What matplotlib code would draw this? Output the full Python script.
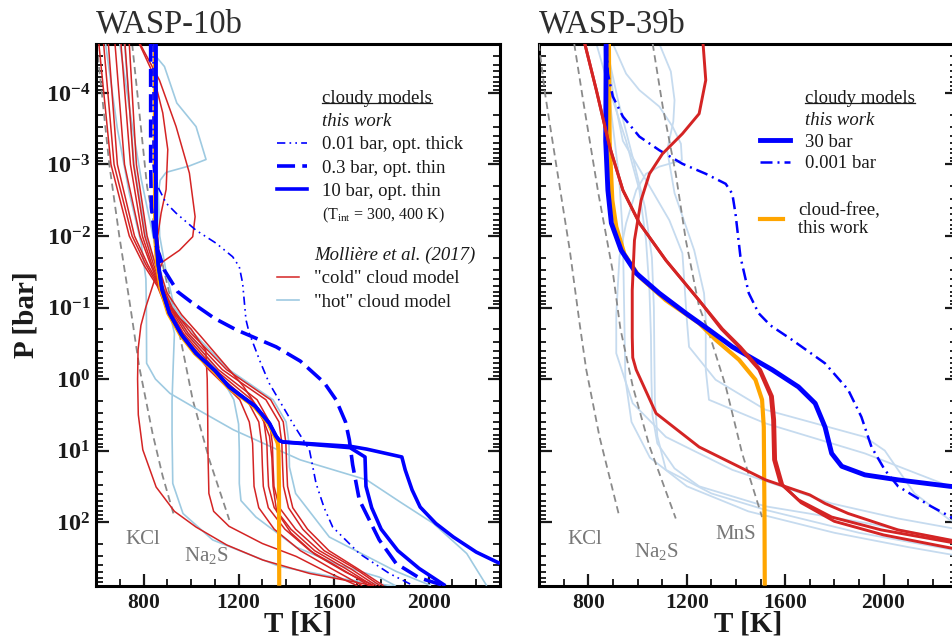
import numpy as np
import matplotlib
matplotlib.use('Agg')
import matplotlib.pyplot as plt
from matplotlib.lines import Line2D
from matplotlib.ticker import MultipleLocator, FixedLocator, FuncFormatter, NullFormatter

plt.rcParams['font.family'] = ['Liberation Serif', 'DejaVu Serif']
plt.rcParams['mathtext.fontset'] = 'custom'
plt.rcParams['mathtext.rm'] = 'Liberation Serif'
plt.rcParams['mathtext.it'] = 'Liberation Serif:italic'
plt.rcParams['mathtext.bf'] = 'Liberation Serif:bold'

# ---------------- WASP-10b (T in K, log10 P in bar) ----------------
w10_kcl_T = [602, 615, 656, 698, 745, 782, 838, 880, 930]
w10_kcl_logP = [-4.69, -4.3, -3.0, -2.0, -1.0, -0.17, 0.76, 1.35, 1.93]
w10_na2s_T = [752, 777, 815, 857, 905, 951, 1007, 1077, 1161]
w10_na2s_logP = [-4.69, -3.9, -2.69, -1.94, -1.25, -0.64, 0.29, 1.13, 1.97]

# "hot" cloud models (Molliere et al. 2017)
w10_hot1_T = [640, 690, 740, 790, 810, 812, 813, 850, 911, 1040, 1178, 1459, 1739, 1880, 2020, 2160, 2244]
w10_hot1_logP = [-4.69, -3.5, -2.6, -1.9, -1.4, -1.0, -0.22, 0.0, 0.2, 0.45, 0.71, 1.13, 1.41, 1.72, 2.02, 2.44, 2.89]
w10_hot2_T = [700, 740, 790, 840, 880, 905, 930, 925, 920, 920, 923, 966, 1091, 1372, 1650, 1863]
w10_hot2_logP = [-4.69, -3.8, -2.8, -2.0, -1.4, -1.0, -0.64, -0.2, 0.3, 0.76, 1.46, 1.88, 2.25, 2.62, 2.8, 2.9]
w10_hot3_T = [720, 760, 810, 850, 885, 925, 985, 1110, 1180, 1200, 1203, 1203, 1210, 1273, 1442, 1620, 1792, 1860]
w10_hot3_logP = [-4.69, -3.0, -2.0, -1.6, -1.3, -1.0, -0.64, -0.13, 0.29, 0.63, 1.0, 1.46, 1.7, 1.93, 2.35, 2.6, 2.77, 2.89]
w10_hot4_T = [850, 855, 888, 940, 1021, 1063, 993, 895, 870, 862, 868, 895, 930, 1010, 1160, 1345,
              1400, 1412, 1414, 1440, 1582, 1863, 2010]
w10_hot4_logP = [-4.69, -4.5, -4.37, -3.86, -3.53, -3.07, -2.98, -2.89, -2.78, -2.6, -2.0, -1.5, -1.0, -0.64,
                 -0.13, 0.29, 0.6, 0.9, 1.23, 1.6, 2.21, 2.69, 2.89]

# "cold" cloud models (Molliere et al. 2017)
w10_cold_logP = [-4.69, -3.0, -2.0, -1.6, -1.3, -1.0, -0.64, -0.13, 0.29, 0.6, 0.9, 1.2, 1.5, 1.8, 2.1, 2.4, 2.65, 2.89]
w10_cold1_T = [612, 663, 740, 800, 858, 895, 950, 1075, 1205, 1245, 1259, 1262, 1265, 1285, 1350, 1460, 1590, 1720]
w10_cold2_T = [632, 676, 752, 810, 863, 900, 960, 1090, 1235, 1285, 1297, 1300, 1304, 1325, 1395, 1500, 1630, 1750]
w10_cold3_T = [652, 690, 762, 818, 868, 905, 968, 1102, 1255, 1307, 1319, 1322, 1326, 1350, 1420, 1520, 1650, 1765]
w10_cold4_T = [705, 745, 795, 835, 872, 910, 978, 1115, 1278, 1330, 1342, 1345, 1349, 1372, 1440, 1540, 1670, 1780]
w10_cold5_T = [722, 758, 805, 842, 876, 915, 988, 1132, 1315, 1370, 1382, 1385, 1389, 1410, 1470, 1560, 1690, 1795]
w10_cold6_T = [740, 770, 815, 850, 880, 920, 1000, 1150, 1335, 1388, 1399, 1402, 1406, 1428, 1490, 1580, 1700, 1810]
w10_cold7_T = [785, 867, 937, 993, 1017, 1007, 951, 881, 846, 810, 789, 777, 775, 778, 797, 853, 930, 1021,
               1150, 1301, 1500, 1723, 1760]
w10_cold7_logP = [-4.69, -4.18, -3.53, -2.88, -2.27, -1.99, -1.80, -1.64, -1.38, -1.01, -0.75, -0.41, 0.0, 0.5,
                  0.99, 1.51, 1.85, 2.07, 2.32, 2.53, 2.72, 2.86, 2.89]
w10_cold8_T = [782, 839, 881, 902, 895, 874, 860, 870, 900, 960, 1040, 1130, 1220, 1290, 1330, 1340, 1345,
               1360, 1420, 1520, 1650, 1770]
w10_cold8_logP = [-4.69, -4.28, -3.72, -3.21, -2.65, -2.32, -2.0, -1.5, -1.2, -0.9, -0.6, -0.25, 0.1, 0.45,
                  0.8, 1.1, 1.5, 1.85, 2.15, 2.45, 2.7, 2.89]
w10_cold9_T = [680, 720, 785, 830, 866, 905, 1000, 1062, 1068, 1070, 1071, 1075, 1095, 1160, 1300, 1442, 1560, 1700]
w10_cold9_logP = [-4.69, -3.0, -2.0, -1.6, -1.3, -1.0, -0.7, -0.4, 0.0, 0.5, 1.0, 1.6, 1.85, 2.06, 2.3, 2.48, 2.68, 2.89]

# this work
w10_free_T = [848, 848, 849, 857, 873, 904, 955, 1016, 1095, 1155, 1265, 1325, 1353, 1365, 1368, 1370, 1371]
w10_free_logP = [-4.69, -3.0, -2.0, -1.6, -1.25, -0.92, -0.62, -0.36, -0.12, 0.11, 0.38, 0.62, 0.8, 0.9, 1.0, 1.5, 2.89]
w10_10bar_top_T = [852, 852, 853, 862, 878, 909, 960, 1021, 1100, 1160, 1270, 1330, 1358, 1372, 1386]
w10_10bar_top_logP = [-4.69, -3.0, -2.0, -1.6, -1.25, -0.92, -0.62, -0.36, -0.12, 0.11, 0.38, 0.62, 0.8, 0.86, 0.88]
w10_10bar_300_T = w10_10bar_top_T + [1669, 1732, 1736, 1760, 1800, 1870, 1960, 2070]
w10_10bar_300_logP = w10_10bar_top_logP + [0.96, 1.09, 1.5, 1.8, 2.1, 2.4, 2.65, 2.89]
w10_10bar_400_T = w10_10bar_top_T + [1669, 1739, 1887, 1901, 1930, 1964, 2030, 2104, 2200, 2300]
w10_10bar_400_logP = w10_10bar_top_logP + [0.94, 0.98, 1.09, 1.27, 1.55, 1.79, 2.02, 2.21, 2.42, 2.58]
w10_03bar_T = [830, 830, 833, 850, 888, 944, 1007, 1098, 1189, 1358, 1460, 1560, 1610, 1650, 1666, 1680,
               1708, 1792, 1863, 1960, 2076]
w10_03bar_logP = [-4.69, -3.0, -2.4, -1.9, -1.52, -1.22, -1.06, -0.85, -0.69, -0.45, -0.25, 0.05, 0.29, 0.6,
                  0.85, 1.2, 1.69, 2.25, 2.58, 2.78, 2.9]
w10_001bar_T = [840, 840, 845, 860, 895, 937, 1021, 1105, 1175, 1203, 1217, 1231, 1245, 1290, 1329, 1428,
                1498, 1526, 1560, 1596, 1708, 1835, 1936]
w10_001bar_logP = [-4.69, -3.0, -2.85, -2.69, -2.46, -2.32, -2.08, -1.90, -1.71, -1.57, -1.34, -0.83, -0.64,
                   -0.25, 0.06, 0.62, 0.99, 1.46, 1.8, 2.07, 2.44, 2.72, 2.89]

# ---------------- WASP-39b ----------------
w39_kcl_T = [598, 623, 670, 724, 765, 791, 845, 926]
w39_kcl_logP = [-4.69, -4.0, -2.97, -1.80, -0.75, -0.13, 0.81, 1.93]
w39_na2s_T = [742, 778, 840, 898, 930, 980, 1048, 1155]
w39_na2s_logP = [-4.69, -3.9, -2.6, -1.52, -0.7, 0.10, 0.94, 1.95]
w39_mns_T = [1061, 1102, 1129, 1155, 1196, 1250, 1285, 1358, 1425, 1506]
w39_mns_logP = [-4.69, -3.81, -3.33, -2.87, -1.94, -1.01, -0.7, 0.10, 1.04, 1.93]

w39_hot1_T = [899, 953, 1007, 1088, 1142, 1176, 1180, 1088, 1034, 994, 953, 926, 913, 913, 980, 1115, 1385,
              1789, 2059, 2300]
w39_hot1_logP = [-4.69, -4.27, -4.04, -3.81, -3.53, -3.29, -3.06, -2.97, -2.87, -2.64, -2.18, -1.71, -0.9,
                 -0.36, 0.34, 0.81, 1.27, 1.74, 1.95, 2.1]
w39_hot2_T = [832, 886, 953, 1007, 1034, 1048, 1054, 1056, 1060, 1080, 1150, 1250, 1520, 1924, 2269, 2300]
w39_hot2_logP = [-4.69, -4.04, -3.33, -2.64, -1.94, -1.24, -0.6, 0.0, 0.5, 0.9, 1.25, 1.50, 1.78, 2.01, 2.25, 2.27]
w39_hot3_T = [870, 920, 980, 1030, 1058, 1066, 1068, 1070, 1080, 1115, 1300, 1520, 1900, 2300]
w39_hot3_logP = [-4.69, -3.9, -3.1, -2.4, -1.7, -1.0, -0.3, 0.3, 0.8, 1.27, 1.6, 1.83, 2.15, 2.40]
w39_hot4_T = [875, 900, 940, 1034, 1129, 1182, 1200, 1209, 1317, 1520, 1924, 2005, 2059, 2126, 2269, 2300]
w39_hot4_logP = [-4.69, -4.0, -3.33, -2.78, -2.22, -1.76, -0.83, -0.45, 0.01, 0.43, 0.81, 1.0, 1.27, 1.60, 1.97, 2.0]
w39_hot5_T = [1088, 1135, 1150, 1145, 1120, 1150, 1230, 1270, 1277, 1277, 1290, 1520, 1924, 2269, 2300]
w39_hot5_logP = [-4.69, -4.3, -3.9, -3.6, -3.2, -2.6, -1.8, -1.2, -0.83, -0.13, 0.29, 0.62, 1.04, 1.50, 1.52]
w39_hot6_T = [860, 890, 925, 940, 945, 950, 975, 1050, 1200, 1450, 1800, 2100, 2300]
w39_hot6_logP = [-4.69, -3.8, -2.8, -2.0, -1.0, 0.0, 0.6, 1.1, 1.5, 1.85, 2.15, 2.35, 2.47]

w39_cold1_T = [785, 832, 886, 940, 1007, 1115, 1250, 1340, 1412, 1493, 1540, 1549, 1553, 1580, 1654, 1789,
               1991, 2269, 2300]
w39_cold1_logP = [-4.69, -4.04, -3.25, -2.64, -2.18, -1.66, -1.10, -0.7, -0.45, -0.13, 0.24, 0.57, 1.13, 1.46,
                  1.69, 1.93, 2.11, 2.28, 2.30]
w39_cold2_T = [785, 832, 886, 940, 1007, 1115, 1250, 1345, 1418, 1500, 1548, 1557, 1561, 1590, 1665, 1800,
               2000, 2269, 2300]
w39_cold2_logP = [-4.69, -4.04, -3.25, -2.64, -2.18, -1.66, -1.10, -0.7, -0.45, -0.13, 0.24, 0.57, 1.13, 1.48,
                  1.73, 1.99, 2.18, 2.36, 2.38]
w39_cold3_T = [1266, 1277, 1250, 1182, 1101, 1048, 1014, 987, 978, 978, 980, 994, 1075, 1250, 1520, 1700,
               1762, 1856, 2059, 2269, 2300]
w39_cold3_logP = [-4.69, -4.18, -3.71, -3.43, -3.15, -2.87, -2.50, -1.94, -1.24, -0.59, -0.3, -0.13, 0.48,
                  0.95, 1.41, 1.62, 1.74, 1.88, 2.11, 2.25, 2.27]

w39_free_T = [883, 886, 897, 913, 946, 1007, 1115, 1250, 1317, 1412, 1479, 1506, 1513, 1516, 1517]
w39_free_logP = [-4.69, -3.33, -2.5, -2.13, -1.75, -1.43, -1.10, -0.78, -0.55, -0.27, 0.01, 0.29, 0.67, 2.0, 2.89]
w39_30bar_T = [872, 870, 879, 893, 933, 994, 1088, 1196, 1290, 1385, 1547, 1654, 1722, 1762, 1789, 1830,
               1924, 2059, 2269, 2300]
w39_30bar_logP = [-4.69, -3.33, -2.64, -2.18, -1.80, -1.48, -1.20, -0.92, -0.69, -0.45, -0.13, 0.11, 0.34,
                  0.67, 1.04, 1.22, 1.34, 1.41, 1.50, 1.51]
w39_0001bar_T = [872, 879, 899, 940, 1007, 1088, 1182, 1277, 1358, 1385, 1398, 1418, 1452, 1492, 1540, 1627,
                 1762, 1856, 1910, 1951, 2005, 2059, 2193, 2269, 2300]
w39_0001bar_logP = [-4.69, -4.27, -3.95, -3.67, -3.39, -3.20, -3.01, -2.87, -2.73, -2.59, -2.31, -1.71, -1.20,
                    -0.92, -0.75, -0.55, -0.22, 0.15, 0.53, 0.95, 1.27, 1.50, 1.78, 1.92, 1.98]

y_decades = [-4, -3, -2, -1, 0, 1, 2]

RED = '#d42424'
LB_L = '#9ecae1'
LB_R = '#c6dbef'
BLUE = '#0000ff'
ORANGE = '#ffa500'
GRAY = '#8a8a8a'
TXT = '#1a1a1a'

DASH_GRAY = (4, 2.5)
DASH_DDOT = (5, 2.5, 1, 2.5, 1, 2.5)
DASH_LONG = (5, 2)
DASH_DOT = (4.8, 2, 0.8, 2)


def curve(ax, T, logP, **kw):
    ax.plot(T, np.power(10.0, np.array(logP)), solid_capstyle='butt', **kw)


def style_axes(ax, ylabels):
    ax.set_yscale('log')
    ax.set_xlim(600, 2300)
    ax.set_ylim(10 ** 2.89, 10 ** -4.685)
    ax.xaxis.set_major_locator(MultipleLocator(400))
    ax.xaxis.set_minor_locator(MultipleLocator(100))
    ax.xaxis.set_major_formatter(FuncFormatter(lambda v, p: r'$\mathbf{%d}$' % v))
    ax.yaxis.set_major_locator(FixedLocator([10.0 ** d for d in y_decades]))
    minors = [m * 10.0 ** d for d in range(-5, 3) for m in range(2, 10)]
    ax.yaxis.set_minor_locator(FixedLocator(minors))
    ax.yaxis.set_minor_formatter(NullFormatter())
    if ylabels:
        ax.yaxis.set_major_formatter(FuncFormatter(
            lambda v, p: r'$\mathbf{10^{%d}}$' % round(np.log10(v))))
    else:
        ax.yaxis.set_major_formatter(NullFormatter())
    for s in ax.spines.values():
        s.set_linewidth(2.2)
    ax.tick_params(which='both', direction='in', left=True, right=True, top=False, bottom=True)
    ax.tick_params(which='major', length=9, width=1.6)
    ax.tick_params(which='minor', length=5, width=1.2)
    ax.tick_params(axis='x', labelsize=15.5, pad=6, colors=TXT)
    ax.tick_params(axis='y', labelsize=17.5, pad=4, colors=TXT)
    ax.set_xlabel('T [K]', fontsize=21, fontweight='bold', color=TXT)
    ax.xaxis.set_label_coords(0.5, -0.045)


fig = plt.figure(figsize=(9.52, 6.44), dpi=100)
ax1 = fig.add_axes([96 / 952, 58.3 / 644, 404 / 952, 541.7 / 644])
ax2 = fig.add_axes([539.3 / 952, 58.3 / 644, 418 / 952, 541.7 / 644])

# ---- left panel ----
for T, lp in [(w10_kcl_T, w10_kcl_logP), (w10_na2s_T, w10_na2s_logP)]:
    curve(ax1, T, lp, color=GRAY, lw=1.3, dashes=DASH_GRAY, zorder=2)
for T, lp in [(w10_hot1_T, w10_hot1_logP), (w10_hot2_T, w10_hot2_logP),
              (w10_hot3_T, w10_hot3_logP), (w10_hot4_T, w10_hot4_logP)]:
    curve(ax1, T, lp, color=LB_L, lw=1.2, zorder=3)
for T in [w10_cold1_T, w10_cold2_T, w10_cold3_T, w10_cold4_T, w10_cold5_T, w10_cold6_T]:
    curve(ax1, T, w10_cold_logP, color=RED, lw=1.1, zorder=4)
for T, lp in [(w10_cold7_T, w10_cold7_logP), (w10_cold8_T, w10_cold8_logP), (w10_cold9_T, w10_cold9_logP)]:
    curve(ax1, T, lp, color=RED, lw=1.1, zorder=4)
curve(ax1, w10_free_T, w10_free_logP, color=ORANGE, lw=3.0, zorder=5)
curve(ax1, w10_001bar_T, w10_001bar_logP, color=BLUE, lw=1.2, dashes=DASH_DDOT, zorder=6)
curve(ax1, w10_03bar_T, w10_03bar_logP, color=BLUE, lw=2.6, dashes=DASH_LONG, zorder=6)
curve(ax1, w10_10bar_300_T, w10_10bar_300_logP, color=BLUE, lw=2.6, zorder=6)
curve(ax1, w10_10bar_400_T, w10_10bar_400_logP, color=BLUE, lw=2.6, zorder=6)

ax1.text(798, 10 ** 2.25, 'KCl', fontsize=15, color='#777777', ha='center', va='center')
ax1.text(1063, 10 ** 2.47, r'Na$_2$S', fontsize=15, color='#777777', ha='center', va='center')

style_axes(ax1, True)
ax1.set_ylabel('P [bar]', fontsize=21, fontweight='bold', color=TXT)
ax1.yaxis.set_label_coords(-0.14, 0.5)
ax1.set_title('WASP-10b', loc='left', fontsize=23.5, color='#2d2d2d', pad=8)

blank = Line2D([], [], linestyle='none')
legA = ax1.legend(
    [blank, blank,
     Line2D([], [], color=BLUE, lw=1.2, dashes=DASH_DDOT),
     Line2D([], [], color=BLUE, lw=2.6, dashes=DASH_LONG),
     Line2D([], [], color=BLUE, lw=2.6), blank],
    ['cloudy models', 'this work', '0.01 bar, opt. thick', '0.3 bar, opt. thin',
     '10 bar, opt. thin', r'(T$_{\rm int}$ = 300, 400 K)'],
    loc='upper left', bbox_to_anchor=(0.448, 0.9157), frameon=False, fontsize=13.5,
    handlelength=1.6, handletextpad=0.8, labelspacing=0.33, borderpad=0, borderaxespad=0)
legA.get_texts()[1].set_fontstyle('italic')
legA.get_texts()[5].set_fontsize(11.5)
for t in legA.get_texts():
    t.set_color(TXT)
ax1.add_artist(legA)
legB = ax1.legend(
    [blank, Line2D([], [], color=RED, lw=1.1), Line2D([], [], color=LB_L, lw=1.2)],
    ['Mollière et al. (2017)', '"cold" cloud model', '"hot" cloud model'],
    loc='upper left', bbox_to_anchor=(0.448, 0.6266), frameon=False, fontsize=13.5,
    handlelength=1.2, handletextpad=0.8, labelspacing=0.35, borderpad=0, borderaxespad=0)
legB.get_texts()[0].set_fontstyle('italic')
for t in legB.get_texts():
    t.set_color(TXT)

# ---- right panel ----
for T, lp in [(w39_hot1_T, w39_hot1_logP), (w39_hot2_T, w39_hot2_logP), (w39_hot3_T, w39_hot3_logP),
              (w39_hot4_T, w39_hot4_logP), (w39_hot5_T, w39_hot5_logP), (w39_hot6_T, w39_hot6_logP)]:
    curve(ax2, T, lp, color=LB_R, lw=1.3, zorder=2)
for T, lp in [(w39_kcl_T, w39_kcl_logP), (w39_na2s_T, w39_na2s_logP), (w39_mns_T, w39_mns_logP)]:
    curve(ax2, T, lp, color=GRAY, lw=1.3, dashes=DASH_GRAY, zorder=3)
curve(ax2, w39_free_T, w39_free_logP, color=ORANGE, lw=3.0, zorder=5)
curve(ax2, w39_30bar_T, w39_30bar_logP, color=BLUE, lw=3.5, zorder=5)
curve(ax2, w39_0001bar_T, w39_0001bar_logP, color=BLUE, lw=1.8, dashes=DASH_DOT, zorder=5)
for T, lp in [(w39_cold1_T, w39_cold1_logP), (w39_cold2_T, w39_cold2_logP), (w39_cold3_T, w39_cold3_logP)]:
    curve(ax2, T, lp, color=RED, lw=2.1, zorder=6)

ax2.text(785, 10 ** 2.25, 'KCl', fontsize=15, color='#777777', ha='center', va='center')
ax2.text(1076, 10 ** 2.41, r'Na$_2$S', fontsize=15, color='#777777', ha='center', va='center')
ax2.text(1400, 10 ** 2.18, 'MnS', fontsize=15, color='#777777', ha='center', va='center')

style_axes(ax2, False)
ax2.set_title('WASP-39b', loc='left', fontsize=23.5, color='#2d2d2d', pad=8)

legC = ax2.legend(
    [blank, blank, Line2D([], [], color=BLUE, lw=3.5),
     Line2D([], [], color=BLUE, lw=1.8, dashes=DASH_DOT)],
    ['cloudy models', 'this work', '30 bar', '0.001 bar'],
    loc='upper left', bbox_to_anchor=(0.528, 0.9153), frameon=False, fontsize=13.5,
    handlelength=1.6, handletextpad=0.8, labelspacing=0.25, borderpad=0, borderaxespad=0)
legC.get_texts()[1].set_fontstyle('italic')
for t in legC.get_texts():
    t.set_color(TXT)
ax2.add_artist(legC)
legD = ax2.legend(
    [Line2D([], [], color=ORANGE, lw=3.0)], ['cloud-free,\nthis work'],
    loc='upper left', bbox_to_anchor=(0.528, 0.7086), frameon=False, fontsize=13.5,
    handlelength=1.25, handletextpad=0.8, borderpad=0, borderaxespad=0)
for t in legD.get_texts():
    t.set_color(TXT)
    t.set_linespacing(1.1)

# underline the "cloudy models" headers
fig.canvas.draw()
rend = fig.canvas.get_renderer()
inv = fig.transFigure.inverted()
for leg in (legA, legC):
    bb = leg.get_texts()[0].get_window_extent(rend)
    (x0, y0), (x1, _) = inv.transform([[bb.x0, bb.y0 + 4], [bb.x1, bb.y0 + 4]])
    fig.add_artist(Line2D([x0, x1], [y0, y0], transform=fig.transFigure, color=TXT, lw=0.9))

fig.savefig('out.png', dpi=100)
